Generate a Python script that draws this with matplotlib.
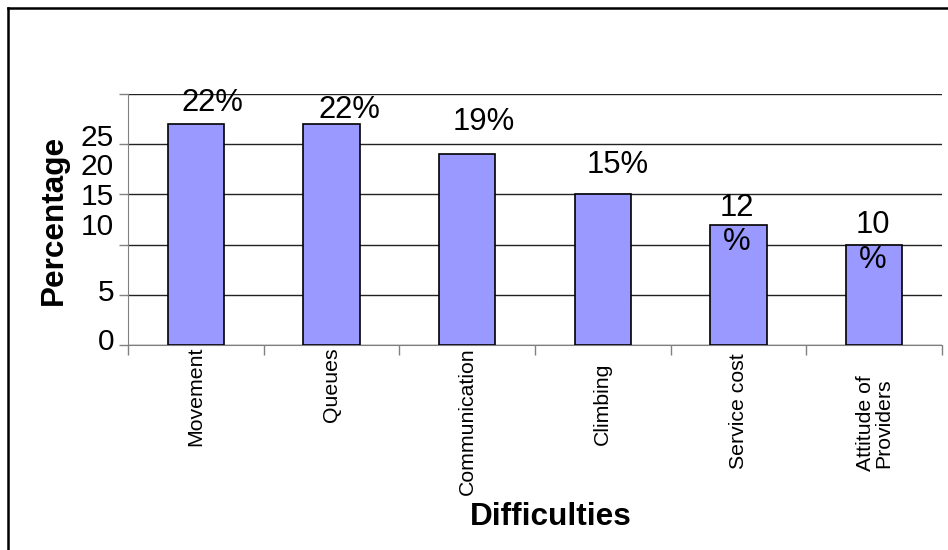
import numpy as np
import matplotlib
matplotlib.use('Agg')
import matplotlib.pyplot as plt
from matplotlib.lines import Line2D

plt.rcParams['font.family'] = ['Liberation Sans', 'DejaVu Sans']

# data
categories = ['Movement', 'Queues', 'Communication', 'Climbing', 'Service cost', 'Attitude of\nProviders']
values = [22, 22, 19, 15, 12, 10]
bar_labels = ['22%', '22%', '19%', '15%', '12\n%', '10\n%']
ytick_values = [0, 5, 10, 15, 20, 25]
ytick_labels = ['0', '5', '10', '15', '20', '25']

# placement quirks of the original chart (label positions, not data)
label_dx = [0.124, 0.131, 0.124, 0.109, -0.013, -0.013]
label_y = [24.15, 23.45, 22.2, 17.88, 11.95, 10.18]
ytick_label_pos = [0.6, 5.5, 12.05, 15.05, 18.0, 20.9]
xlabel_pad = [2, 2, 2, 18, 8, 30]   # px below the axis

fig = plt.figure(figsize=(9.48, 5.5), dpi=100)
ax = fig.add_axes([128/948, 1-345/550, (942-128)/948, (345-94)/550])

x = np.arange(len(categories))
ax.bar(x, values, width=0.413, color='#9999FF', edgecolor='black', linewidth=1.2, zorder=3)

ax.set_xlim(-0.5, len(categories)-0.5)
ax.set_ylim(0, 25)

# gridlines + small ticks at the real values, labels where the original put them
ax.set_yticks(ytick_values, minor=True)
ax.set_yticks(ytick_label_pos)
ax.set_yticklabels(ytick_labels, fontsize=21.5)
ax.tick_params(axis='y', which='major', length=0, pad=10)
ax.tick_params(axis='y', which='minor', length=6.5, width=1, color='#808080', direction='out')
ax.grid(which='minor', axis='y', color='#222222', linewidth=1, zorder=0)

ax.set_xticks(np.arange(-0.5, len(categories)), labels=[])
ax.tick_params(axis='x', length=7.2, width=1, color='#808080', direction='out')

for s in ['top', 'right']:
    ax.spines[s].set_visible(False)
ax.spines['left'].set_color('#808080')
ax.spines['bottom'].set_color('#808080')

for i, lab in enumerate(categories):
    ax.annotate(lab, xy=(i, 0), xycoords=('data', 'axes fraction'),
                xytext=(0, -xlabel_pad[i]*0.72), textcoords='offset points',
                rotation=90, ha='center', va='top', fontsize=15.3,
                multialignment='center', linespacing=0.95)

for i, lab in enumerate(bar_labels):
    ax.text(i + label_dx[i], label_y[i], lab, ha='center', va='center',
            fontsize=22.3, linespacing=1.2, zorder=4)

fig.text(54/948, 1-220/550, 'Percentage', rotation=90, ha='center', va='center',
         fontsize=22.7, fontweight='bold')
fig.text(551/948, 1-517/550, 'Difficulties', ha='center', va='center',
         fontsize=22.7, fontweight='bold')

# outer chart border (only top and left are visible in the original)
fig.add_artist(Line2D([8/948, 1], [1-8/550, 1-8/550], color='black', lw=1.8, transform=fig.transFigure))
fig.add_artist(Line2D([8/948, 8/948], [0, 1-8/550], color='black', lw=1.8, transform=fig.transFigure))

fig.savefig('out.png', dpi=100)
